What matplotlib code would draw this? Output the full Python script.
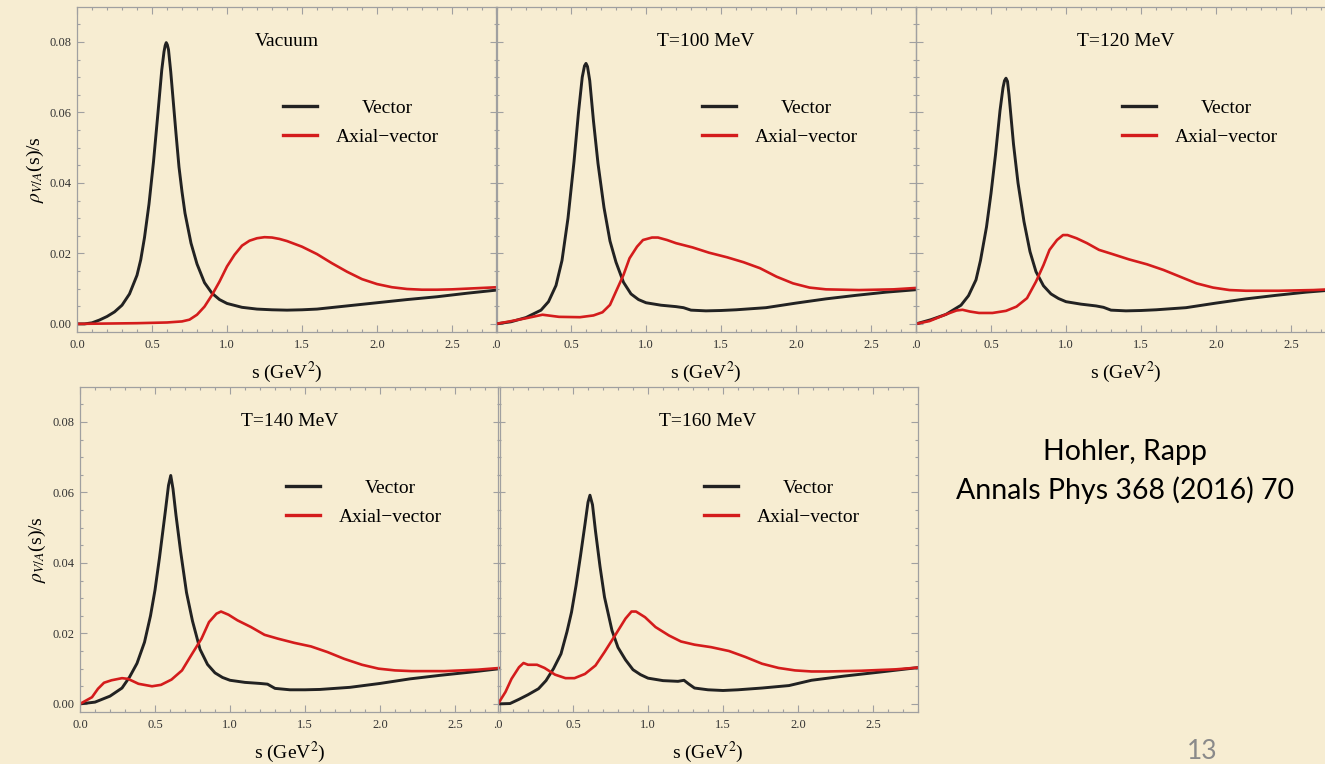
import matplotlib
matplotlib.use("Agg")
import matplotlib.pyplot as plt
from matplotlib.ticker import MultipleLocator, FixedLocator, FixedFormatter

# ---------------- data ----------------
vac_vec_s = [0.00, 0.05, 0.10, 0.15, 0.20, 0.25, 0.30, 0.35, 0.40, 0.425, 0.45, 0.48, 0.51, 0.54, 0.565,
             0.58, 0.588, 0.595, 0.602, 0.61, 0.625, 0.64, 0.66, 0.68, 0.70, 0.72, 0.76, 0.80, 0.85, 0.90,
             0.95, 1.00, 1.10, 1.20, 1.30, 1.40, 1.50, 1.60, 1.80, 2.00, 2.20, 2.40, 2.60, 2.80]
vac_vec_y = [0.0000, 0.0000, 0.0003, 0.0011, 0.0021, 0.0034, 0.0053, 0.0085, 0.0138, 0.0182, 0.0245,
             0.0340, 0.0460, 0.0600, 0.0720, 0.0772, 0.0790, 0.0798, 0.0792, 0.0778, 0.0715, 0.0640,
             0.0540, 0.0445, 0.0375, 0.0314, 0.0229, 0.0170, 0.0117, 0.0087, 0.0069, 0.0058, 0.0047,
             0.0042, 0.0040, 0.0039, 0.0040, 0.0042, 0.0051, 0.0060, 0.0069, 0.0077, 0.0087, 0.0096]
vac_ax_s = [0.0, 0.2, 0.4, 0.5, 0.6, 0.7, 0.75, 0.80, 0.85, 0.90, 0.95, 1.00, 1.05, 1.10, 1.15, 1.20, 1.25,
            1.30, 1.35, 1.40, 1.50, 1.60, 1.70, 1.80, 1.90, 2.00, 2.10, 2.20, 2.30, 2.40, 2.50, 2.60, 2.70, 2.80]
vac_ax_y = [0.0000, 0.0001, 0.0002, 0.0003, 0.0004, 0.0007, 0.0012, 0.0026, 0.0049, 0.0082, 0.0120, 0.0163,
            0.0196, 0.0222, 0.0236, 0.0243, 0.0246, 0.0245, 0.0241, 0.0235, 0.0219, 0.0198, 0.0172, 0.0148,
            0.0127, 0.0113, 0.0104, 0.0099, 0.0097, 0.0097, 0.0098, 0.0100, 0.0102, 0.0104]

t100_vec_s = [0.00, 0.10, 0.20, 0.30, 0.35, 0.40, 0.44, 0.48, 0.52, 0.55, 0.575, 0.59, 0.60, 0.61, 0.625,
              0.65, 0.68, 0.72, 0.76, 0.80, 0.85, 0.90, 0.95, 1.00, 1.10, 1.20, 1.25, 1.30, 1.40, 1.50,
              1.60, 1.80, 2.00, 2.20, 2.40, 2.60, 2.80]
t100_vec_y = [0.0000, 0.0006, 0.0018, 0.0039, 0.0063, 0.0109, 0.0180, 0.0300, 0.0460, 0.0600, 0.0700,
              0.0732, 0.0739, 0.0730, 0.0690, 0.0575, 0.0455, 0.0330, 0.0235, 0.0175, 0.0118, 0.0085,
              0.0069, 0.0060, 0.0053, 0.0049, 0.0046, 0.0039, 0.0037, 0.0038, 0.0040, 0.0046, 0.0059,
              0.0071, 0.0081, 0.0090, 0.0097]
t100_ax_s = [0.00, 0.09, 0.20, 0.31, 0.42, 0.56, 0.65, 0.71, 0.76, 0.80, 0.85, 0.89, 0.94, 0.98, 1.04,
             1.08, 1.14, 1.20, 1.31, 1.42, 1.54, 1.65, 1.76, 1.87, 1.98, 2.09, 2.20, 2.42, 2.65, 2.80]
t100_ax_y = [0.0000, 0.0007, 0.0016, 0.0026, 0.0020, 0.0019, 0.0024, 0.0033, 0.0054, 0.0092, 0.0139,
             0.0186, 0.0219, 0.0238, 0.0245, 0.0245, 0.0238, 0.0229, 0.0217, 0.0202, 0.0189, 0.0175,
             0.0158, 0.0134, 0.0115, 0.0103, 0.0098, 0.0096, 0.0098, 0.0102]

t120_vec_s = [0.00, 0.10, 0.20, 0.30, 0.35, 0.40, 0.43, 0.47, 0.50, 0.53, 0.56, 0.58, 0.59, 0.60, 0.61,
              0.62, 0.65, 0.68, 0.72, 0.76, 0.80, 0.85, 0.90, 0.95, 1.00, 1.10, 1.20, 1.25, 1.30, 1.40,
              1.50, 1.60, 1.80, 2.00, 2.20, 2.40, 2.60, 2.80]
t120_vec_y = [0.0000, 0.0012, 0.0027, 0.0053, 0.0080, 0.0125, 0.0180, 0.0275, 0.0370, 0.0480, 0.0605,
              0.0670, 0.0690, 0.0697, 0.0688, 0.0650, 0.0510, 0.0400, 0.0290, 0.0205, 0.0148, 0.0108,
              0.0085, 0.0072, 0.0063, 0.0056, 0.0051, 0.0047, 0.0039, 0.0037, 0.0038, 0.0040, 0.0046,
              0.0059, 0.0071, 0.0081, 0.0090, 0.0097]
t120_ax_s = [0.00, 0.09, 0.20, 0.27, 0.31, 0.36, 0.42, 0.51, 0.60, 0.67, 0.74, 0.80, 0.85, 0.89, 0.94,
             0.98, 1.01, 1.07, 1.14, 1.22, 1.31, 1.42, 1.54, 1.65, 1.76, 1.87, 1.98, 2.09, 2.20, 2.42,
             2.65, 2.80]
t120_ax_y = [0.0000, 0.0008, 0.0027, 0.0038, 0.0040, 0.0035, 0.0031, 0.0031, 0.0037, 0.0049, 0.0073,
             0.0120, 0.0167, 0.0210, 0.0238, 0.0252, 0.0252, 0.0243, 0.0229, 0.0210, 0.0198, 0.0183,
             0.0169, 0.0153, 0.0134, 0.0115, 0.0103, 0.0096, 0.0094, 0.0094, 0.0096, 0.0099]

t140_vec_s = [0.00, 0.10, 0.20, 0.28, 0.33, 0.38, 0.43, 0.47, 0.50, 0.53, 0.57, 0.59, 0.605, 0.62, 0.64,
              0.67, 0.71, 0.75, 0.80, 0.85, 0.90, 0.95, 1.00, 1.10, 1.20, 1.25, 1.30, 1.40, 1.50, 1.60,
              1.80, 2.00, 2.20, 2.40, 2.60, 2.80]
t140_vec_y = [0.0000, 0.0005, 0.0022, 0.0045, 0.0076, 0.0115, 0.0175, 0.0250, 0.0323, 0.0415, 0.0550,
              0.0620, 0.0648, 0.0610, 0.0535, 0.0435, 0.0316, 0.0235, 0.0155, 0.0112, 0.0088, 0.0075,
              0.0067, 0.0061, 0.0058, 0.0056, 0.0044, 0.0040, 0.0040, 0.0041, 0.0047, 0.0058, 0.0071,
              0.0081, 0.0090, 0.0100]
t140_ax_s = [0.00, 0.08, 0.12, 0.16, 0.21, 0.28, 0.32, 0.39, 0.48, 0.54, 0.61, 0.68, 0.74, 0.81, 0.86,
             0.91, 0.94, 0.99, 1.05, 1.14, 1.23, 1.32, 1.43, 1.54, 1.65, 1.76, 1.88, 1.99, 2.10, 2.21,
             2.43, 2.65, 2.80]
t140_ax_y = [0.0000, 0.0019, 0.0043, 0.0060, 0.0067, 0.0073, 0.0071, 0.0057, 0.0050, 0.0054, 0.0069,
             0.0095, 0.0137, 0.0185, 0.0232, 0.0256, 0.0262, 0.0253, 0.0237, 0.0218, 0.0196, 0.0185,
             0.0173, 0.0163, 0.0147, 0.0128, 0.0111, 0.0100, 0.0095, 0.0093, 0.0093, 0.0097, 0.0102]

t160_vec_s = [0.00, 0.08, 0.14, 0.20, 0.27, 0.32, 0.37, 0.42, 0.46, 0.49, 0.52, 0.55, 0.58, 0.60, 0.613,
              0.63, 0.65, 0.68, 0.71, 0.76, 0.80, 0.85, 0.90, 0.95, 1.00, 1.10, 1.20, 1.24, 1.27, 1.31,
              1.40, 1.50, 1.60, 1.76, 1.94, 2.09, 2.31, 2.54, 2.80]
t160_vec_y = [0.0000, 0.0001, 0.0013, 0.0026, 0.0043, 0.0066, 0.0100, 0.0142, 0.0205, 0.0260, 0.0335,
              0.0420, 0.0510, 0.0572, 0.0592, 0.0565, 0.0490, 0.0390, 0.0303, 0.0208, 0.0160, 0.0125,
              0.0097, 0.0083, 0.0073, 0.0066, 0.0064, 0.0067, 0.0057, 0.0045, 0.0040, 0.0038, 0.0040,
              0.0045, 0.0052, 0.0067, 0.0079, 0.0090, 0.0103]
t160_ax_s = [0.00, 0.05, 0.09, 0.14, 0.17, 0.20, 0.26, 0.31, 0.38, 0.45, 0.51, 0.58, 0.65, 0.71, 0.78,
             0.85, 0.89, 0.92, 0.98, 1.05, 1.14, 1.22, 1.31, 1.42, 1.54, 1.65, 1.76, 1.87, 1.98, 2.09,
             2.20, 2.42, 2.65, 2.80]
t160_ax_y = [0.0000, 0.0034, 0.0071, 0.0104, 0.0116, 0.0111, 0.0111, 0.0102, 0.0083, 0.0073, 0.0073,
             0.0085, 0.0109, 0.0147, 0.0194, 0.0242, 0.0262, 0.0262, 0.0246, 0.0218, 0.0194, 0.0177,
             0.0168, 0.0161, 0.0150, 0.0133, 0.0114, 0.0102, 0.0095, 0.0092, 0.0092, 0.0094, 0.0098,
             0.0103]

titles = ["Vacuum", "T=100 MeV", "T=120 MeV", "T=140 MeV", "T=160 MeV"]
series_labels = ["Vector", "Axial\u2212vector"]
xtick_vals = [0.0, 0.5, 1.0, 1.5, 2.0, 2.5]
xtick_labels_full = ["0.0", "0.5", "1.0", "1.5", "2.0", "2.5"]
xtick_labels_cut = [".0", "0.5", "1.0", "1.5", "2.0", "2.5"]
ytick_vals = [0.00, 0.02, 0.04, 0.06, 0.08]
ytick_labels = ["0.00", "0.02", "0.04", "0.06", "0.08"]
xlabel_text = "s (GeV$^2$)"
ylabel_text = r"$\rho_{V/A}$(s)/s"
citation = ["Hohler, Rapp", "Annals Phys 368 (2016) 70"]
page_number = "13"

# ---------------- style / layout ----------------
W, H = 1325, 764
BG = "#F7EDD2"
plt.rcParams["font.family"] = ["Liberation Serif", "DejaVu Serif"]
plt.rcParams["mathtext.fontset"] = "stix"

fig = plt.figure(figsize=(W / 100, H / 100), dpi=100)
fig.patch.set_facecolor(BG)

AX_W, AX_H = 420, 325
# (left px, top px, show y labels, x tick labels)
layout = [
    (77, 7, True, xtick_labels_full),
    (496, 7, False, xtick_labels_cut),
    (916, 7, False, xtick_labels_cut),
    (80, 387, True, xtick_labels_full),
    (498, 387, False, xtick_labels_cut),
]
data = [
    (vac_vec_s, vac_vec_y, vac_ax_s, vac_ax_y),
    (t100_vec_s, t100_vec_y, t100_ax_s, t100_ax_y),
    (t120_vec_s, t120_vec_y, t120_ax_s, t120_ax_y),
    (t140_vec_s, t140_vec_y, t140_ax_s, t140_ax_y),
    (t160_vec_s, t160_vec_y, t160_ax_s, t160_ax_y),
]

FRAME = "#a0a0a0"
VEC_C = "#222222"
AX_C = "#d41c1c"

legends = []
for (lp, tp, showy, xlabels), (vs, vy, as_, ay), title in zip(layout, data, titles):
    ax = fig.add_axes([lp / W, 1 - (tp + AX_H) / H, AX_W / W, AX_H / H])
    ax.set_facecolor("none")
    ax.set_xlim(0, 2.8)
    ax.set_ylim(-0.0023, 0.0899)
    lv, = ax.plot(vs, vy, color=VEC_C, lw=2.1, solid_joinstyle="round", label=series_labels[0])
    la, = ax.plot(as_, ay, color=AX_C, lw=1.9, solid_joinstyle="round", label=series_labels[1])

    ax.xaxis.set_major_locator(FixedLocator(xtick_vals))
    ax.xaxis.set_major_formatter(FixedFormatter(xlabels))
    ax.xaxis.set_minor_locator(MultipleLocator(0.1))
    ax.yaxis.set_major_locator(FixedLocator(ytick_vals))
    ax.yaxis.set_major_formatter(FixedFormatter(ytick_labels))
    ax.yaxis.set_minor_locator(MultipleLocator(0.005))
    ax.tick_params(which="both", direction="in", top=True, right=True, color=FRAME, width=0.8)
    ax.tick_params(which="major", length=5)
    ax.tick_params(which="minor", length=2.5)
    ax.tick_params(axis="both", labelsize=9, labelcolor="#333333")
    ax.tick_params(axis="x", pad=5)
    ax.tick_params(axis="y", pad=4, labelleft=showy)
    for sp in ax.spines.values():
        sp.set_color(FRAME)
        sp.set_linewidth(0.9)

    ax.set_xlabel(xlabel_text, fontsize=14)
    ax.xaxis.set_label_coords(0.5, -0.085)
    if showy:
        ax.set_ylabel(ylabel_text, fontsize=14)
        ax.yaxis.set_label_coords(-0.075, 0.5)

    ax.text(1.4, 0.08, title, ha="center", va="center", fontsize=14)

    leg = ax.legend(handles=[lv, la], loc="upper left", bbox_to_anchor=(1.37, 0.0638),
                    bbox_transform=ax.transData, frameon=False, fontsize=14,
                    handlelength=1.75, handletextpad=1.0, labelspacing=0.6,
                    borderpad=0, borderaxespad=0)
    for h in leg.legend_handles:
        h.set_linewidth(2.4)
    legends.append(leg)

fig.text(1125 / W, 1 - 452 / H, citation[0], ha="center", va="center", fontsize=20.5,
         family=["Lato", "DejaVu Sans"])
fig.text(1125 / W, 1 - 490 / H, citation[1], ha="center", va="center", fontsize=20.5,
         family=["Lato", "DejaVu Sans"])
fig.text(1202 / W, 1 - 739 / H, page_number, ha="center", va="top", fontsize=19,
         color="#8a8a8a", family=["Lato", "DejaVu Sans"])

# centre the shorter legend label over the longer one (Mathematica style)
fig.canvas.draw()
r = fig.canvas.get_renderer()
for leg in legends:
    t0, t1 = leg.get_texts()
    w0 = t0.get_window_extent(r).width
    w1 = t1.get_window_extent(r).width
    t0.set_x((w1 - w0) / 2)

fig.savefig("out.png", dpi=100, facecolor=BG)
